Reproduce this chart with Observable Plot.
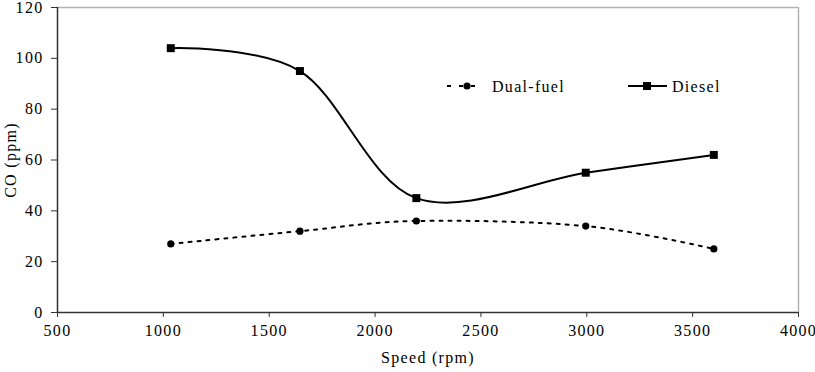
<!DOCTYPE html>
<html><head><meta charset="utf-8">
<script src="https://cdn.jsdelivr.net/npm/d3@7"></script>
<script src="https://cdn.jsdelivr.net/npm/@observablehq/plot@0.6"></script>
<style>
body{margin:0;background:#fff;}
#wrap{position:relative;width:815px;height:372px;}
#legend{position:absolute;left:440px;top:73px;}
svg text{letter-spacing:1.3px;}
</style></head><body><div id="wrap"></div>
<script>
const speed = [1035, 1645, 2195, 2995, 3600];
const dualFuelCO = [27, 32, 36, 34, 25];
const dieselCO = [104, 95, 45, 55, 62];
const xTicks = [500, 1000, 1500, 2000, 2500, 3000, 3500, 4000];
const yTicks = [0, 20, 40, 60, 80, 100, 120];
const seriesNames = ["Dual-fuel", "Diesel"];

const dual = speed.map((s, i) => ({speed: s, co: dualFuelCO[i]}));
const diesel = speed.map((s, i) => ({speed: s, co: dieselCO[i]}));

const font = "'Liberation Serif', 'Times New Roman', serif";
const chart = Plot.plot({
  width: 815, height: 372,
  marginLeft: 57, marginRight: 17, marginTop: 7, marginBottom: 60,
  style: {fontFamily: font, fontSize: "16px", color: "#000", background: "#fff", overflow: "visible"},
  x: {domain: [500, 4000]},
  y: {domain: [0, 120]},
  marks: [
    Plot.ruleY([120], {stroke: "#b3b3b3", strokeWidth: 1.5}),
    Plot.ruleX([4000], {stroke: "#b3b3b3", strokeWidth: 1.5}),
    Plot.axisX({ticks: xTicks, tickSize: 5, tickPadding: 7, tickFormat: d => String(d), stroke: "#333",
      label: "Speed (rpm)", labelAnchor: "center", labelOffset: 50, labelArrow: "none"}),
    Plot.axisY({ticks: yTicks, tickSize: 6, tickPadding: 8, stroke: "#333",
      label: "CO (ppm)", labelAnchor: "center", labelOffset: 53, labelArrow: "none"}),
    Plot.ruleY([0], {stroke: "#333", strokeWidth: 1.5}),
    Plot.ruleX([500], {stroke: "#333", strokeWidth: 1.5}),
    Plot.line(dual, {x: "speed", y: "co", curve: "cardinal", stroke: "#000", strokeWidth: 2, strokeDasharray: "3,6"}),
    Plot.dot(dual, {x: "speed", y: "co", r: 3.6, fill: "#000", stroke: "none"}),
    Plot.line(diesel, {x: "speed", y: "co", curve: "cardinal", stroke: "#000", strokeWidth: 2}),
    Plot.dot(diesel, {x: "speed", y: "co", symbol: "square", r: 4.5, fill: "#000", stroke: "none"})
  ]
});
const wrap = document.getElementById("wrap");
wrap.appendChild(chart);

// legend overlay
const leg = d3.select(wrap).append("svg").attr("id", "legend")
  .attr("width", 320).attr("height", 28)
  .style("font-family", font).style("font-size", "16px");
const g0 = leg.append("g");
g0.append("line").attr("x1", 7).attr("x2", 42).attr("y1", 13).attr("y2", 13)
  .attr("stroke", "#000").attr("stroke-width", 2).attr("stroke-dasharray", "4,8");
g0.append("circle").attr("cx", 27).attr("cy", 13).attr("r", 3.6).attr("fill", "#000");
g0.append("text").attr("x", 52).attr("y", 18.5).text(seriesNames[0]);
const g1 = leg.append("g");
g1.append("line").attr("x1", 188).attr("x2", 227).attr("y1", 13).attr("y2", 13)
  .attr("stroke", "#000").attr("stroke-width", 2);
g1.append("rect").attr("x", 203).attr("y", 9).attr("width", 8).attr("height", 8).attr("fill", "#000");
g1.append("text").attr("x", 232).attr("y", 18.5).text(seriesNames[1]);
</script>
</body></html>
